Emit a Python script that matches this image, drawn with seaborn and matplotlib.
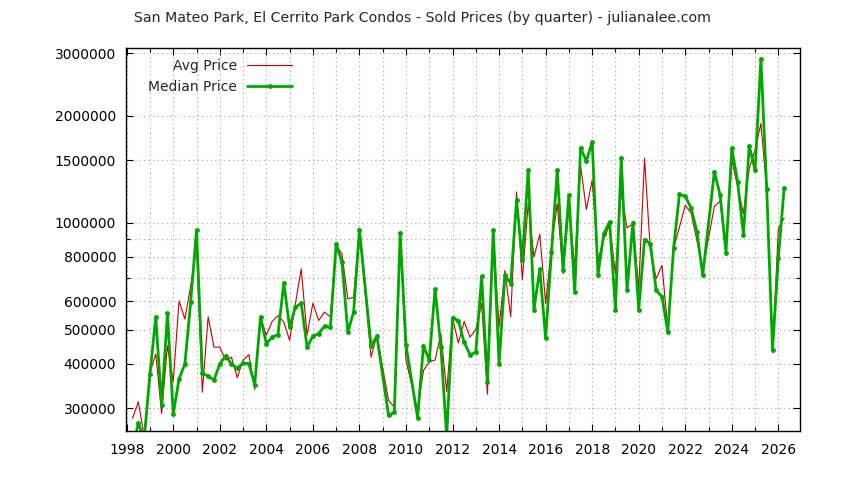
import matplotlib
matplotlib.use("Agg")
import numpy as np
import pandas as pd
import matplotlib.pyplot as plt
import matplotlib.ticker as mticker
import seaborn as sns

# quarters 1998Q2 .. 2026Q2
quarters = pd.period_range("1998Q2", "2026Q2", freq="Q")

# prices in thousands of dollars (None = no sale that quarter)
median_price = [
    230, 273, 245,
    375, 543, 306, 555,
    289, 363, 400, 598,
    951, 376, 370, 360,
    400, 422, 400, 389,
    402, 401, 350, 543,
    456, 476, 484, 677,
    507, 579, 592, 446,
    479, 487, 511, 507,
    869, 774, 491, 560,
    955, None, 449, 479,
    None, 287, 292, 935,
    452, None, 282, 449,
    410, 651, 446, 250,
    539, 530, 460, 425,
    431, 705, 355, 951,
    400, 710, 673, 1156,
    783, 1405, 569, 740,
    472, 824, 1405, 737,
    1194, 636, 1624, 1490,
    1689, 713, 931, 1004,
    569, 1522, 647, 1000,
    569, 895, 872, 644,
    619, 492, 850, 1200,
    1186, 1100, 943, 711,
    None, 1390, 1194, 823,
    1618, 1302, 925, 1645,
    1405, 2890, 1242, 438,
    797, 1252,
]

avg_price = [
    281, 313, 250,
    378, 427, 290, 450,
    357, 601, 535, 663,
    853, 333, 543, 446,
    446, 410, 418, 366,
    410, 425, 339, 540,
    482, 527, 547, 525,
    466, 592, 741, 482,
    593, 530, 560, 543,
    860, 818, 610, 616,
    950, None, 418, 482,
    None, 316, 302, 935,
    410, None, 295, 383,
    406, 410, 487, 334,
    539, 458, 527, 476,
    500, 592, 329, 930,
    508, 733, 543, 1220,
    690, 1130, 800, 927,
    592, 853, 1130, 718,
    1107, 750, 1451, 1088,
    1316, 783, 901, 983,
    718, 1220, 966, 993,
    651, 1516, 835, 695,
    758, 503, 845, 970,
    1119, 1064, 891, 733,
    None, 1110, 1150, 823,
    1500, 1260, 1060, 1420,
    1600, 1900, 1240, 431,
    962, 1030,
]

y_ticks = [300000, 400000, 500000, 600000, 800000, 1000000, 1500000, 2000000, 3000000]
y_minor = [700000, 900000]
x_ticks = list(range(1998, 2027, 2))

df = pd.DataFrame({
    "t": quarters.year + (quarters.quarter - 1) / 4,
    "avg": pd.to_numeric(pd.Series(avg_price), errors="coerce") * 1000,
    "median": pd.to_numeric(pd.Series(median_price), errors="coerce") * 1000,
})

sns.set_style("ticks")
plt.rcParams["font.family"] = ["DejaVu Sans"]

fig = plt.figure(figsize=(8.44, 4.8), dpi=100)
ax = fig.add_axes([126 / 844, 1 - 431 / 480, (800 - 126) / 844, (431 - 48) / 480])

red = "#cc0000"
green = "#00a800"

d_avg = df.dropna(subset=["avg"])
d_med = df.dropna(subset=["median"])
sns.lineplot(x="t", y="avg", data=d_avg, ax=ax, color=red, linewidth=0.8,
             label="Avg Price", sort=False, estimator=None)
sns.lineplot(x="t", y="median", data=d_med, ax=ax, color=green, linewidth=2.0,
             marker="o", markersize=3.5, markeredgewidth=0, label="Median Price",
             sort=False, estimator=None)

ax.set_yscale("log")
ax.set_ylim(259000, 3100000)
ax.set_xlim(1997.97, 2026.93)

ax.yaxis.set_major_locator(mticker.FixedLocator(y_ticks))
ax.yaxis.set_minor_locator(mticker.FixedLocator(y_minor))
ax.yaxis.set_major_formatter(mticker.FuncFormatter(lambda v, p: f"{int(round(v))}"))
ax.yaxis.set_minor_formatter(mticker.NullFormatter())
ax.xaxis.set_major_locator(mticker.FixedLocator(x_ticks))
ax.xaxis.set_minor_locator(mticker.MultipleLocator(1))

ax.tick_params(which="both", direction="in", top=True, right=True,
               labelsize=10, colors="black")
ax.tick_params(axis="x", pad=9)
ax.tick_params(axis="y", pad=7)
ax.tick_params(which="major", length=5, width=0.8)
ax.tick_params(which="minor", length=3, width=0.8)

ax.grid(True, which="both", color="#a0a0a0", linestyle=(0, (1, 3)), linewidth=0.8)
for s in ax.spines.values():
    s.set_color("black")
    s.set_linewidth(1.0)

ax.set_xlabel("")
ax.set_ylabel("")

ax.legend(loc="upper left", bbox_to_anchor=(148 / 844, 1 - 59 / 480),
          bbox_transform=fig.transFigure, frameon=False, markerfirst=False,
          fontsize=10, handlelength=3.2, handletextpad=0.75, labelspacing=0.5,
          borderpad=0, borderaxespad=0)

fig.suptitle("San Mateo Park, El Cerrito Park Condos - Sold Prices (by quarter) - julianalee.com",
             y=1 - 18 / 480, va="center", fontsize=10.2)

fig.savefig("out.png", dpi=100)
